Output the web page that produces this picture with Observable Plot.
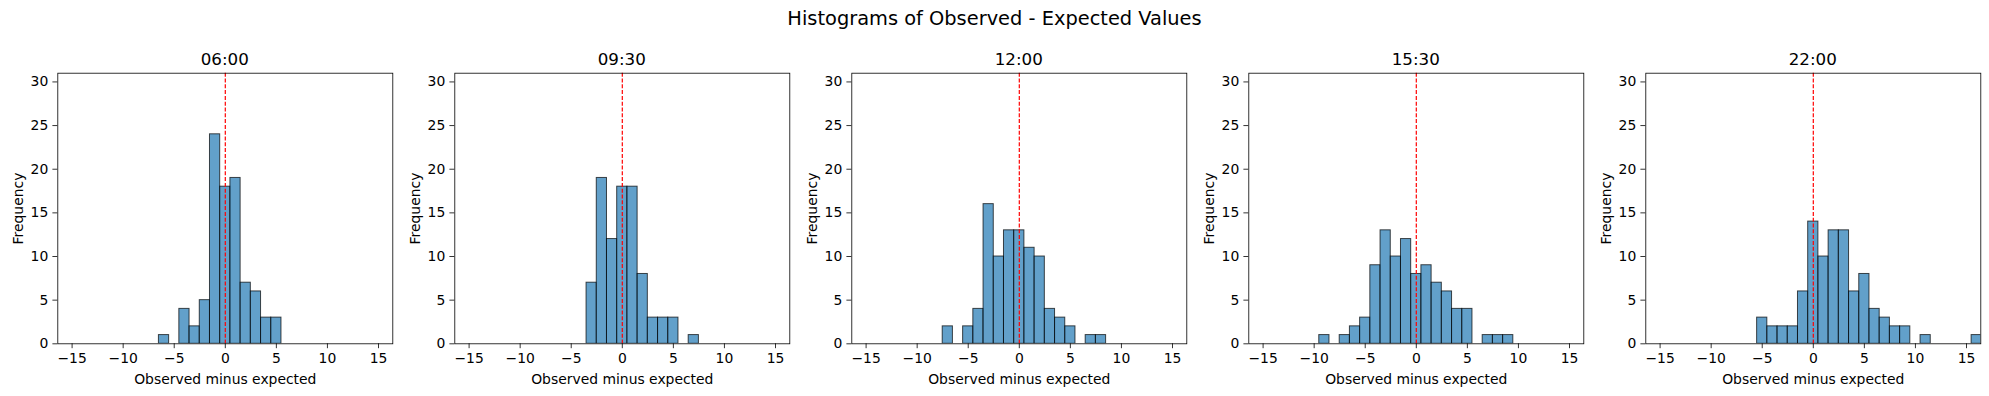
<!DOCTYPE html>
<html>
<head>
<meta charset="utf-8">
<script src="https://cdn.jsdelivr.net/npm/d3@7"></script>
<script src="https://cdn.jsdelivr.net/npm/@observablehq/plot@0.6"></script>
<style>
  html, body { margin: 0; padding: 0; background: #fff; }
  #root { position: relative; width: 1989px; height: 396px; font-family: "DejaVu Sans", sans-serif; color: #000; }
  .title { position: absolute; left: 0; width: 1989px; top: 7px; text-align: center; font-size: 19.4px; line-height: 24px; }
  .ptitle { position: absolute; top: 49px; text-align: center; font-size: 16.7px; line-height: 20px; }
  .panel { position: absolute; top: 0; }
</style>
</head>
<body>
<div id="root">
  <div class="title">Histograms of Observed - Expected Values</div>
</div>
<script>
// Panel titles
const panelTitles = ["06:00", "09:30", "12:00", "15:30", "22:00"];

// Bin centres (bin width 1) and counts per panel
const bins0600 = [-6, -4, -3, -2, -1, 0, 1, 2, 3, 4, 5];
const counts0600 = [1, 4, 2, 5, 24, 18, 19, 7, 6, 3, 3];

const bins0930 = [-3, -2, -1, 0, 1, 2, 3, 4, 5, 7];
const counts0930 = [7, 19, 12, 18, 18, 8, 3, 3, 3, 1];

const bins1200 = [-7, -5, -4, -3, -2, -1, 0, 1, 2, 3, 4, 5, 7, 8];
const counts1200 = [2, 2, 4, 16, 10, 13, 13, 11, 10, 4, 3, 2, 1, 1];

const bins1530 = [-9, -7, -6, -5, -4, -3, -2, -1, 0, 1, 2, 3, 4, 5, 7, 8, 9];
const counts1530 = [1, 1, 2, 3, 9, 13, 10, 12, 8, 9, 7, 6, 4, 4, 1, 1, 1];

const bins2200 = [-5, -4, -3, -2, -1, 0, 1, 2, 3, 4, 5, 6, 7, 8, 9, 11, 16];
const counts2200 = [3, 2, 2, 2, 6, 14, 10, 13, 13, 6, 8, 4, 3, 2, 2, 1, 1];

const xTicks = [-15, -10, -5, 0, 5, 10, 15];
const yTicks = [0, 5, 10, 15, 20, 25, 30];
const xLabel = "Observed minus expected";
const yLabel = "Frequency";

const allBins = [bins0600, bins0930, bins1200, bins1530, bins2200];
const allCounts = [counts0600, counts0930, counts1200, counts1530, counts2200];

const fmt = d => d < 0 ? "\u2212" + Math.abs(d) : String(d);

const root = document.getElementById("root");
const W = 397, H = 396;
const mL = 57.3, mT = 72.7, mB = 52.7, plotW = 335;

panelTitles.forEach((t, i) => {
  const data = allBins[i].map((b, j) => ({bin: b, count: allCounts[i][j]}));
  const chart = Plot.plot({
    width: W,
    height: H,
    marginLeft: mL,
    marginRight: W - mL - plotW,
    marginTop: mT,
    marginBottom: mB,
    style: {fontFamily: "DejaVu Sans, sans-serif", fontSize: "13.9px", color: "#000", background: "transparent", overflow: "visible"},
    x: {domain: [-16.4, 16.4]},
    y: {domain: [0, 31]},
    marks: [
      Plot.rectY(data, {
        x1: d => d.bin - 0.5, x2: d => d.bin + 0.5, y1: 0, y2: "count",
        fill: "#1f77b4", fillOpacity: 0.7, stroke: "#000", strokeOpacity: 0.7, strokeWidth: 1, clip: true
      }),
      Plot.ruleX([0], {stroke: "red", strokeWidth: 1.2, strokeDasharray: "4,1.8"}),
      Plot.frame({stroke: "#000", strokeWidth: 0.8}),
      Plot.axisX(xTicks, {tickSize: 4.9, tickPadding: 4.6, strokeWidth: 0.8, tickFormat: fmt, label: null}),
      Plot.axisY(yTicks, {tickSize: 4.9, tickPadding: 4.6, strokeWidth: 0.8, tickFormat: fmt, label: null}),
      Plot.text([yLabel], {frameAnchor: "left", rotate: -90, dx: -39.5, textAnchor: "middle", lineAnchor: "middle", fontSize: 13.9, fill: "#000"}),
      Plot.text([xLabel], {frameAnchor: "bottom", dy: 35.8, textAnchor: "middle", lineAnchor: "middle", fontSize: 13.9, fill: "#000"})
    ]
  });
  const wrap = document.createElement("div");
  wrap.className = "panel";
  wrap.style.left = (i * W) + "px";
  wrap.appendChild(chart);
  root.appendChild(wrap);

  const pt = document.createElement("div");
  pt.className = "ptitle";
  pt.style.left = (i * W + mL) + "px";
  pt.style.width = plotW + "px";
  pt.textContent = t;
  root.appendChild(pt);
});
</script>
</body>
</html>
